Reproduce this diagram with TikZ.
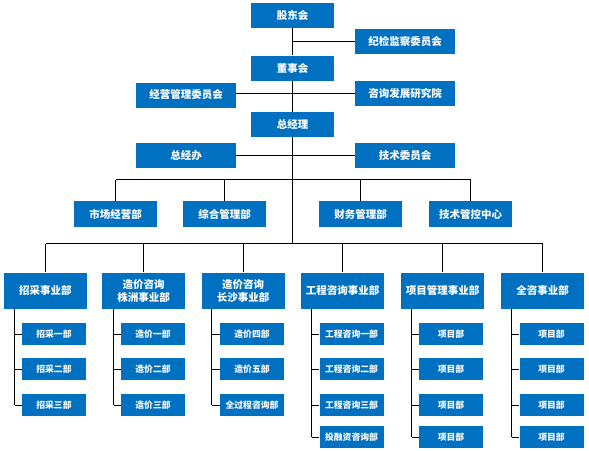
\documentclass[tikz,border=0pt]{standalone}
\usepackage{fontspec}
\newfontfamily\cjk{Noto Sans CJK SC}
\definecolor{boxblue}{HTML}{0070C0}
\tikzset{
  box/.style={fill=boxblue, text=white, inner sep=0pt, align=center, font=\cjk\bfseries\fontsize{10.5}{13}\selectfont},
  top/.style={box, minimum width=83pt, minimum height=25pt},
  side/.style={box, minimum width=100pt, minimum height=25pt},
  mid/.style={box, minimum width=83pt, minimum height=26pt},
  biz/.style={box, minimum width=83pt, minimum height=36pt},
  sub/.style={box, minimum width=64pt, minimum height=22pt, font=\cjk\bfseries\fontsize{8.8}{10}\selectfont},
  conn/.style={draw=black, line width=0.9pt}
}
\begin{document}
\begin{tikzpicture}[x=1pt,y=-1pt]
\useasboundingbox (0,0) rectangle (589,450);
% top hierarchy
\node[top] (gd) at (292.5,15.5) {股东会};
\node[side] (jj) at (405,41.5) {纪检监察委员会};
\node[top] (dsh) at (292.5,68) {董事会};
\node[side] (jy) at (186,95) {经营管理委员会};
\node[side] (zx) at (405,93.5) {咨询发展研究院};
\node[top] (zjl) at (292.5,124.5) {总经理};
\node[side] (zjb) at (186,155.5) {总经办};
\node[side] (js) at (405,155.5) {技术委员会};
% departments
\node[mid] (sc) at (115.5,214) {市场经营部};
\node[mid] (zh) at (224.5,214) {综合管理部};
\node[mid] (cw) at (360.5,214) {财务管理部};
\node[mid] (jk) at (470.5,214) {技术管控中心};
% business units
\node[biz] (b1) at (45.5,290.5) {招采事业部};
\node[biz] (b2) at (143.5,290.5) {造价咨询\\株洲事业部};
\node[biz] (b3) at (243,290.5) {造价咨询\\长沙事业部};
\node[biz] (b4) at (342.5,290.5) {工程咨询事业部};
\node[biz] (b5) at (442.5,290.5) {项目管理事业部};
\node[biz] (b6) at (542.5,290.5) {全咨事业部};
% sub units
\node[sub] (s11) at (54,334) {招采一部};
\node[sub] (s12) at (54,369) {招采二部};
\node[sub] (s13) at (54,405) {招采三部};
\node[sub] (s21) at (153,334) {造价一部};
\node[sub] (s22) at (153,369) {造价二部};
\node[sub] (s23) at (153,405) {造价三部};
\node[sub] (s31) at (252,334) {造价四部};
\node[sub] (s32) at (252,369) {造价五部};
\node[sub] (s33) at (252,405) {全过程咨询部};
\node[sub] (s41) at (351.5,334) {工程咨询一部};
\node[sub] (s42) at (351.5,369) {工程咨询二部};
\node[sub] (s43) at (351.5,405) {工程咨询三部};
\node[sub] (s44) at (351.5,437) {投融资咨询部};
\node[sub] (s51) at (451,334) {项目部};
\node[sub] (s52) at (451,369) {项目部};
\node[sub] (s53) at (451,405) {项目部};
\node[sub] (s54) at (451,437) {项目部};
\node[sub] (s61) at (551.5,334) {项目部};
\node[sub] (s62) at (551.5,369) {项目部};
\node[sub] (s63) at (551.5,405) {项目部};
\node[sub] (s64) at (551.5,437) {项目部};
% coordinates
\coordinate (spine) at (292.5,0);
\coordinate (busA) at (0,179.5);
\coordinate (busB) at (0,243.5);
\coordinate (v1) at (14.5,0);
\coordinate (v2) at (113.5,0);
\coordinate (v3) at (211.5,0);
\coordinate (v4) at (311.5,0);
\coordinate (v5) at (411.5,0);
\coordinate (v6) at (511.5,0);
% main spine
\draw[conn] (gd.south) -- (dsh.north);
\draw[conn] (dsh.south) -- (zjl.north);
\draw[conn] (zjl.south) -- (spine |- busB);
\draw[conn] (spine |- jj.west) -- (jj.west);
\draw[conn] (jy.east |- zx.west) -- (zx.west);
\draw[conn] (zjb.east) -- (zjb.east -| js.west);
% department bus
\draw[conn] (sc.north |- busA) -- (jk.north |- busA);
\foreach \n in {sc,zh,cw,jk} \draw[conn] (\n.north |- busA) -- (\n.north);
% business bus
\draw[conn] (b1.north |- busB) -- (b6.north |- busB);
\foreach \n in {b1,b2,b3,b4,b5,b6} \draw[conn] (\n.north |- busB) -- (\n.north);
% sub connectors
\draw[conn] (v1 |- b1.south) -- (v1 |- s13.west);
\foreach \s in {s11,s12,s13} \draw[conn] (v1 |- \s.west) -- (\s.west);
\draw[conn] (v2 |- b2.south) -- (v2 |- s23.west);
\foreach \s in {s21,s22,s23} \draw[conn] (v2 |- \s.west) -- (\s.west);
\draw[conn] (v3 |- b3.south) -- (v3 |- s33.west);
\foreach \s in {s31,s32,s33} \draw[conn] (v3 |- \s.west) -- (\s.west);
\draw[conn] (v4 |- b4.south) -- (v4 |- s44.west);
\foreach \s in {s41,s42,s43,s44} \draw[conn] (v4 |- \s.west) -- (\s.west);
\draw[conn] (v5 |- b5.south) -- (v5 |- s54.west);
\foreach \s in {s51,s52,s53,s54} \draw[conn] (v5 |- \s.west) -- (\s.west);
\draw[conn] (v6 |- b6.south) -- (v6 |- s64.west);
\foreach \s in {s61,s62,s63,s64} \draw[conn] (v6 |- \s.west) -- (\s.west);
\end{tikzpicture}
\end{document}
